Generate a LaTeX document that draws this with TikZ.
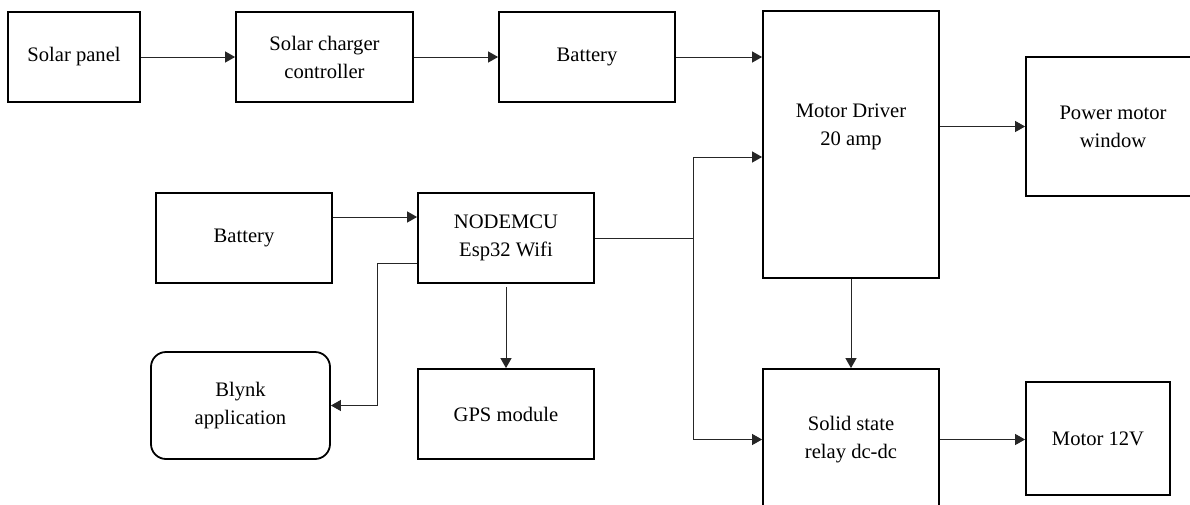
\documentclass[tikz,border=0pt]{standalone}
\usepackage{fontspec}
\setmainfont{Liberation Serif}[Scale=1.0]
\usetikzlibrary{positioning, arrows.meta}

\begin{document}
\begin{tikzpicture}[
    x=0.5pt, y=-0.5pt,
    every node/.style={font=\rmfamily\fontsize{10.3pt}{14pt}\selectfont},
    block/.style={draw, line width=0.9pt, minimum width=88pt, minimum height=45pt, align=center, inner sep=1pt},
    appbox/.style={block, rounded corners=7.5pt},
    arrow/.style={-{Triangle[length=5pt, width=5.5pt]}, line width=0.5pt, black!85},
    wire/.style={line width=0.5pt, black!85},
]
\clip (0,0) rectangle (1190,504);

% ── Solar charging chain ──
\node[block, minimum width=66pt] (solar) at (74,57) {Solar panel};
\node[block, minimum width=88.5pt] (charger) at (324.5,57) {Solar charger\\controller};
\node[block] (battery) at (587,57) {Battery};

% ── Driver and outputs ──
\node[block, minimum height=133.5pt] (driver) at (851,144.5) {};
\node[align=center] (drivertxt) at ([yshift=9pt]driver.center) {Motor Driver\\20 amp};
\node[block, minimum width=87pt, minimum height=69.5pt] (power) at (1113,126.5) {Power motor\\window};
\node[block, minimum height=70.5pt] (relay) at (851,439.5) {Solid state\\relay dc-dc};
\node[block, minimum width=72pt, minimum height=56.5pt] (motor) at (1098,438.5) {Motor 12V};

% ── Controller side ──
\node[block] (battlow) at (244,238) {Battery};
\node[block] (nodemcu) at (506,238) {NODEMCU\\Esp32 Wifi};
\node[appbox, minimum width=89.5pt, minimum height=53.5pt] (blynk) at (240.5,405.5) {Blynk\\application};
\node[block] (gps) at (506,414) {GPS module};

\coordinate (split) at (693,238);
\coordinate (tap) at (377,263);

% ── Arrows ──
\draw[arrow] (solar.east) -- (charger.west);
\draw[arrow] (charger.east) -- (battery.west);
\draw[arrow] (battery.east) -- (battery.east -| driver.west);

\draw[arrow] (driver.east |- power.west) -- (power.west);
\draw[arrow] (driver.south) -- (relay.north);
\draw[arrow] (relay.east) -- (relay.east -| motor.west);

\draw[arrow] ([yshift=10.5pt]battlow.east) -- ([yshift=10.5pt]nodemcu.west);
\draw[arrow, shorten <=1.5pt] (nodemcu.south) -- (gps.north);
\draw[arrow] ([yshift=-12.5pt]nodemcu.west) -- (tap) |- (blynk.east);

\draw[wire] (nodemcu.east) -- (split);
\draw[arrow] (split) |- ([yshift=-6.25pt]driver.west);
\draw[arrow] (split) |- (relay.west);

\end{tikzpicture}
\end{document}
